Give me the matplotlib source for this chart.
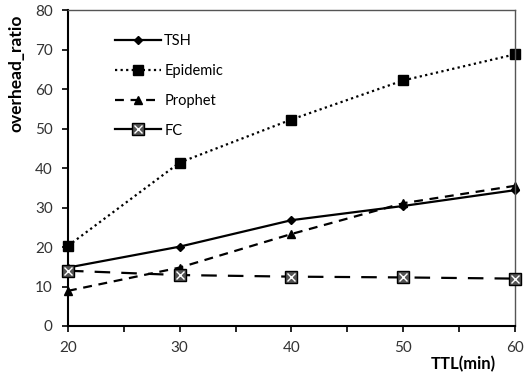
import matplotlib.pyplot as plt
from matplotlib.lines import Line2D

ttl = [20, 30, 40, 50, 60]
tsh = [14.8, 20.1, 26.8, 30.4, 34.4]
epidemic = [20.3, 41.4, 52.3, 62.2, 68.8]
prophet = [8.9, 14.8, 23.3, 31.1, 35.5]
fc = [14.0, 12.9, 12.5, 12.3, 12.0]

plt.rcParams['font.family'] = ['Lato', 'DejaVu Sans']

fig = plt.figure(figsize=(5.27, 3.76), dpi=100)
ax = fig.add_axes([0.129, 0.133, 0.848, 0.84])

# series
ax.plot(ttl, tsh, color='black', lw=1.6, ls='-', marker='D', ms=4, label='TSH')
ax.plot(ttl, epidemic, color='black', lw=1.6, ls=(0, (1, 1.5)), marker='s', ms=6.5,
        label='Epidemic')
ax.plot(ttl, prophet, color='black', lw=1.6, ls=(0, (4, 3)), marker='^', ms=6,
        label='Prophet')
ax.plot(ttl, fc, color='black', lw=1.6, ls=(0, (7, 5)), marker='s', ms=8,
        mfc='#555555', mec='black', label='FC', zorder=3)
ax.plot(ttl, fc, ls='none', marker='x', ms=6, mec='white', mew=1.0, zorder=4)

ax.set_xlim(20, 60)
ax.set_ylim(0, 80)
ax.set_xticks([20, 30, 40, 50, 60])
ax.set_xticks([25, 35, 45, 55], minor=True)
ax.set_yticks(range(0, 81, 10))
ax.tick_params(axis='both', direction='out', length=4, width=1.2, labelsize=11,
               labelcolor='#333333', pad=7)
ax.tick_params(axis='x', which='minor', direction='out', length=4, width=1.2)

for side in ['left', 'bottom']:
    ax.spines[side].set_linewidth(1.5)
for side in ['top', 'right']:
    ax.spines[side].set_linewidth(1.0)
    ax.spines[side].set_color('#555555')

for ln in ax.lines:
    ln.set_clip_on(False)

ax.set_ylabel('overhead_ratio', fontsize=12.5, fontweight='bold')
ax.yaxis.set_label_coords(-0.098, 0.80)
ax.set_xlabel('TTL(min)', fontsize=12, fontweight='bold')
ax.xaxis.set_label_coords(0.885, -0.095)

fc_handle = (Line2D([], [], color='black', lw=1.6, ls='-', marker='s', ms=8,
                    mfc='#555555', mec='black'),
             Line2D([], [], ls='none', marker='x', ms=6, mec='white', mew=1.0))
handles = [ax.lines[0], ax.lines[1], ax.lines[2], fc_handle]
labels = ['TSH', 'Epidemic', 'Prophet', 'FC']
ax.legend(handles, labels, loc='upper left', bbox_to_anchor=(0.075, 0.965),
          frameon=False, fontsize=10.5, handlelength=3.2, labelspacing=1.08,
          handletextpad=0.2, numpoints=1)

fig.savefig('out.png', dpi=100)
